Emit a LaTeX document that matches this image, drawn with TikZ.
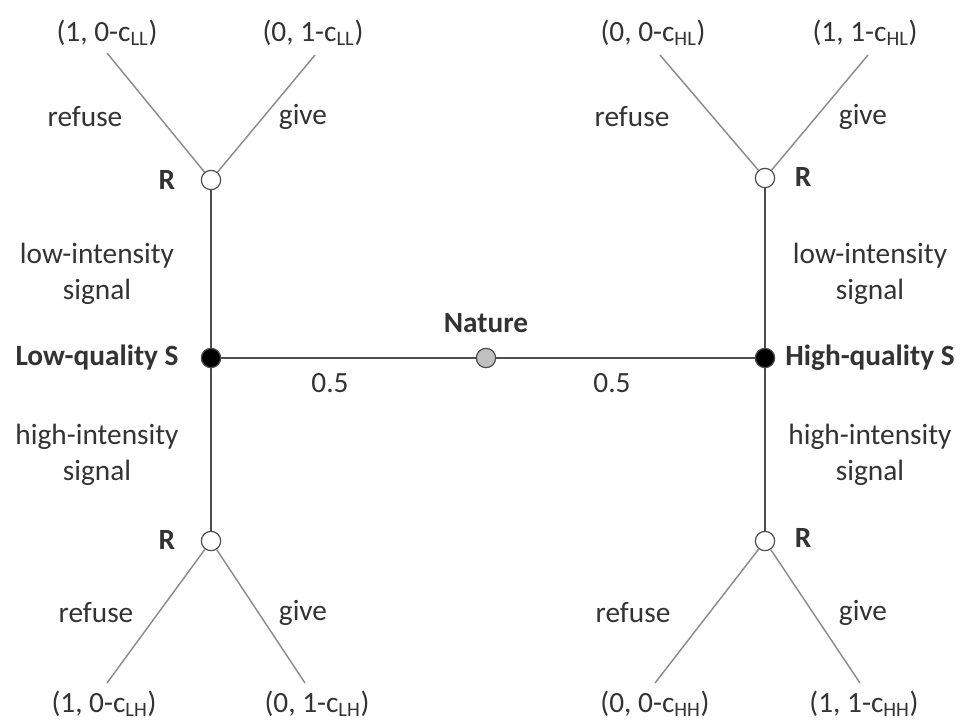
\documentclass[tikz,border=0pt]{standalone}
\usepackage{fontspec}
\setmainfont{Carlito}
\usetikzlibrary{positioning}
\definecolor{cline}{HTML}{8C8C8C}
\definecolor{ctrunk}{HTML}{4D4D4D}
\definecolor{ctext}{HTML}{333333}
\definecolor{cnature}{HTML}{C0C0C0}
\tikzset{
  every picture/.style={font=\fontsize{22}{27}\selectfont},
  snode/.style={circle, draw=ctrunk, fill=#1, minimum size=14.5pt, inner sep=0pt, line width=0.9pt},
  snode/.default=white,
  branch/.style={draw=cline, line width=1.1pt},
  trunk/.style={draw=ctrunk, line width=1pt},
  lbl/.style={text=ctext, align=center, inner sep=1pt},
  who/.style={text=ctext, font=\fontsize{22}{27}\selectfont\bfseries, inner sep=1pt},
}

\begin{document}
\begin{tikzpicture}[x=0.75pt, y=-0.75pt]
  \useasboundingbox (0,0) rectangle (977,722);
  % decision points
  \node[snode=cnature] (nature) at (486,358) {};
  \node[snode=black] (lowS) at (211,358) {};
  \node[snode=black] (highS) at (765,358) {};
  \node[snode] (rLL) at (211,180) {};
  \node[snode] (rLH) at (211,541) {};
  \node[snode] (rHL) at (765,178) {};
  \node[snode] (rHH) at (765,541) {};
  % branch ends
  \coordinate (eLLr) at (107,53);  \coordinate (eLLg) at (315,55);
  \coordinate (eHLr) at (660,55);  \coordinate (eHLg) at (868,55);
  \coordinate (eLHr) at (107,683); \coordinate (eLHg) at (305,683);
  \coordinate (eHHr) at (655,683); \coordinate (eHHg) at (860,683);

  \draw[trunk] (lowS) -- (nature) -- (highS);
  \draw[trunk] (rLL) -- (lowS) -- (rLH);
  \draw[trunk] (rHL) -- (highS) -- (rHH);
  \foreach \r/\a/\b in {rLL/eLLr/eLLg, rHL/eHLr/eHLg, rLH/eLHr/eLHg, rHH/eHHr/eHHg}
    \draw[branch] (\a) -- (\r) -- (\b);

  % players
  \node[who] (tNature) at (486,323) {Nature};
  \node[who] (tLowS) at (97,358) {Low-quality S};
  \node[who] (tHighS) at (870,358) {High-quality S};
  \foreach \n/\x/\y in {RLL/167/180, RLH/167/540, RHL/803/177, RHH/803/538}
    \node[who] (t\n) at (\x,\y) {R};

  % moves
  \node[lbl] (pL) at (330,383) {0.5};
  \node[lbl] (pH) at (612,383) {0.5};
  \node[lbl] (sLL) at (97,274) {low-intensity\\signal};
  \node[lbl] (sHL) at (870,274) {low-intensity\\signal};
  \node[lbl] (sLH) at (97,455) {high-intensity\\signal};
  \node[lbl] (sHH) at (870,455) {high-intensity\\signal};
  \foreach \n/\x/\y/\t in {LLr/85/117/refuse, LLg/303/117/give, HLr/632/117/refuse, HLg/863/117/give,
                           LHr/96/613/refuse, LHg/303/613/give, HHr/633/613/refuse, HHg/863/613/give}
    \node[lbl] (m\n) at (\x,\y) {\t};

  % payoffs
  \node[lbl] (uLLr) at (107,33) {(1, 0-c\textsubscript{LL})};
  \node[lbl] (uLLg) at (313,33) {(0, 1-c\textsubscript{LL})};
  \node[lbl] (uHLr) at (653,33) {(0, 0-c\textsubscript{HL})};
  \node[lbl] (uHLg) at (865,33) {(1, 1-c\textsubscript{HL})};
  \node[lbl] (uLHr) at (104,704) {(1, 0-c\textsubscript{LH})};
  \node[lbl] (uLHg) at (317,704) {(0, 1-c\textsubscript{LH})};
  \node[lbl] (uHHr) at (655,704) {(0, 0-c\textsubscript{HH})};
  \node[lbl] (uHHg) at (864,704) {(1, 1-c\textsubscript{HH})};
\end{tikzpicture}
\end{document}
